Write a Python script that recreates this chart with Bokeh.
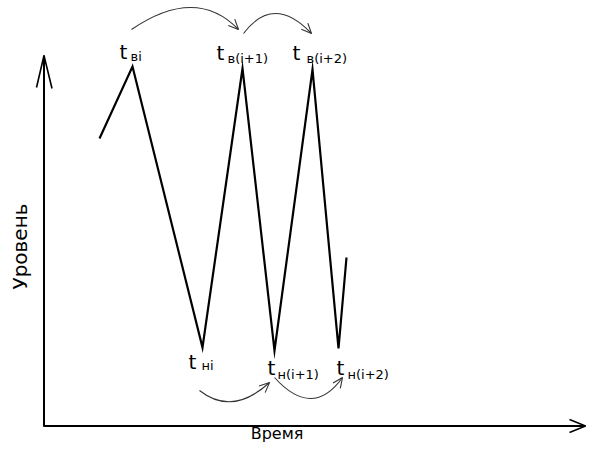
import math
from bokeh.plotting import figure
from bokeh.models import Range1d
from bokeh.core.properties import value
from bokeh.embed import file_html
from bokeh.resources import INLINE

# ---- data (time in px-like units, level = height above image bottom) ----
time = [99, 132, 202, 242, 274, 312, 338, 346]
level = [321, 393, 112, 391, 109, 390, 111, 202]
peak_subs = ["вi", "в(i+1)", "в(i+2)"]
trough_subs = ["нi", "н(i+1)", "н(i+2)"]
x_label = "Время"
y_label = "Уровень"

H = 459
def Y(py):
    return H - py

FONT = value("DejaVu Sans")

W_FIG, H_FIG = 587, 443
p = figure(width=W_FIG, height=H_FIG, x_range=Range1d(0, W_FIG), y_range=Range1d(H - H_FIG, H),
           output_backend="svg", toolbar_location=None,
           x_axis_location=None, y_axis_location=None, min_border=0)
p.grid.visible = False
p.outline_line_color = None
p.background_fill_color = "white"
p.border_fill_color = "white"

# axes
p.line([43.5, 43.5], [Y(426), Y(55)], line_color="black", line_width=2)
p.line([36, 43.5, 51.5], [Y(87), Y(55), Y(88)], line_color="black", line_width=1.6)
p.line([43, 585], [Y(425.5), Y(425.5)], line_color="black", line_width=2)
p.line([569, 585, 569], [Y(419), Y(425.5), Y(432)], line_color="black", line_width=1.4)

# zigzag
p.line(time, level, line_color="black", line_width=2.2, line_join="miter")

# curved arrows (px coords: start, t=0.5 point, end)
curves = [
    ((131, 29), (190, 7), (238, 29)),
    ((243, 33), (275, 13), (311, 33)),
    ((199, 390), (233, 401), (269, 382)),
    ((274, 377), (310, 398), (342, 377)),
]
for (x0, y0), (xm, ym), (x1, y1) in curves:
    cx = 2 * xm - (x0 + x1) / 2
    cy = 2 * ym - (y0 + y1) / 2
    p.quadratic(x0=[x0], y0=[Y(y0)], x1=[x1], y1=[Y(y1)], cx=[cx], cy=[Y(cy)],
                line_color="#333333", line_width=1.1)
    ang = math.atan2(Y(y1) - Y(cy), x1 - cx)
    L, s = 11, 0.42
    ax = [x1 + L * math.cos(ang + math.pi + s), x1, x1 + L * math.cos(ang + math.pi - s)]
    ay = [Y(y1) + L * math.sin(ang + math.pi + s), Y(y1), Y(y1) + L * math.sin(ang + math.pi - s)]
    p.line(ax, ay, line_color="#333333", line_width=1.1)

# labels (baseline positions, px from top)
top_t_x = [119, 216, 292]
top_t_py = [51, 52, 52]
top_s_x = [130, 227, 306]
top_s_py = [56, 58, 58]
bot_t_x = [188, 267, 336]
bot_t_py = [361, 367, 367]
bot_s_x = [201, 277, 347]
bot_s_py = [365, 374, 374]

p.text(x=top_t_x + bot_t_x, y=[Y(v) for v in top_t_py + bot_t_py], text=["t"] * 6,
       text_font=FONT, text_font_size=value("20px"), text_color="black",
       text_align="left", text_baseline="alphabetic")
p.text(x=top_s_x + bot_s_x, y=[Y(v) for v in top_s_py + bot_s_py], text=peak_subs + trough_subs,
       text_font=FONT, text_font_size=value("13px"), text_color="black",
       text_align="left", text_baseline="alphabetic")

p.text(x=[276.5], y=[Y(433)], text=[x_label], text_font=FONT, text_font_size=value("16px"),
       text_color="black", text_align="center", text_baseline="alphabetic")
p.text(x=[19], y=[Y(246)], text=[y_label], text_font=FONT, text_font_size=value("20px"),
       text_color="black", text_align="center", text_baseline="middle", angle=math.pi / 2)

open("out.html", "w").write(file_html(p, INLINE))
